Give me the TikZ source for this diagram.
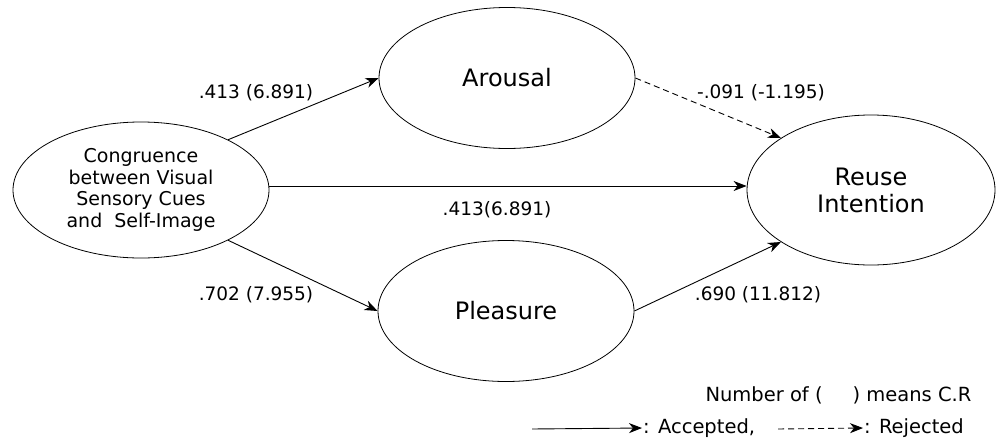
\documentclass[tikz,border=0pt]{standalone}
\usepackage{fontspec}
\setmainfont{DejaVu Sans}
\usetikzlibrary{arrows.meta,shapes.geometric}
\begin{document}
\begin{tikzpicture}[x=1pt,y=-1pt,
  conn/.style={line width=0.9pt, -{Stealth[length=13pt,width=10pt,inset=4pt]}},
  rej/.style={conn, dashed, dash pattern=on 6pt off 4pt},
  lbl/.style={font=\fontsize{18.5}{22}\selectfont},
  leg/.style={font=\fontsize{19.5}{22}\selectfont},
  big/.style={font=\fontsize{24}{27}\selectfont, align=center},
  elln/.style={draw, ellipse, line width=0.8pt, inner sep=0pt}]
\useasboundingbox (0,0) rectangle (997,442);
\node[elln, minimum width=256pt, minimum height=136pt,
  align=center, font=\fontsize{19}{21.7}\selectfont] (cong) at (141,190)
  {Congruence\\between Visual\\Sensory Cues\\and~ Self-Image};
\node[elln, minimum width=256pt, minimum height=141pt, big] (aro) at (507,78) {Arousal};
\node[elln, minimum width=256pt, minimum height=141pt, big] (ple) at (506,311) {Pleasure};
\node[elln, minimum width=248pt, minimum height=150pt, big] (reu) at (871,190) {Reuse\\Intention};
\draw[conn] (cong.30) -- (aro.west);
\draw[conn] (cong.east |- 0,186) coordinate (c1) -- (reu.west |- c1);
\draw[conn] (cong.-30) -- (ple.west);
\draw[conn] (ple.east) -- (reu.210);
\draw[rej] (aro.east) -- (reu.150);
\node[lbl] (l1) at (256,93) {.413 (6.891)};
\node[lbl] (l2) at (761,93) {-.091 (-1.195)};
\node[lbl] (l3) at (497,210) {.413(6.891)};
\node[lbl] (l4) at (256,295) {.702 (7.955)};
\node[lbl] (l5) at (758,295) {.690 (11.812)};
\node[leg, anchor=east] (n1) at (975,395) {Number of (\hspace{30pt}) means C.R};
\coordinate (a0) at (532,429);
\node[leg, anchor=west, inner sep=1pt] (acc) at (642,428) {: Accepted,};
\draw[conn] (a0) -- (acc.west);
\coordinate (r0) at (778,429);
\node[leg, anchor=west, inner sep=1pt] (rej) at (863,428) {: Rejected};
\draw[rej] (r0) -- (rej.west);
\end{tikzpicture}
\end{document}
